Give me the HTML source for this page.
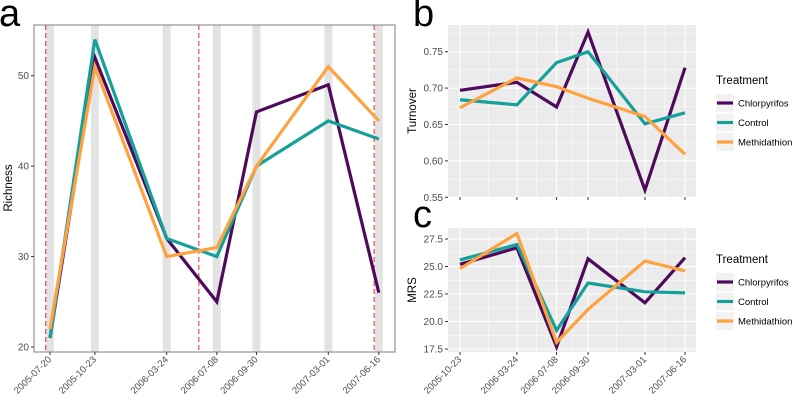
<!DOCTYPE html>
<html><head><meta charset="utf-8"><style>
body{margin:0;background:#fff;}
svg{display:block;font-family:"Liberation Sans",sans-serif;}
</style></head><body>
<svg id="chart" width="795" height="404"></svg>
<script>
const datesA=["2005-07-20","2005-10-23","2006-03-24","2006-07-08","2006-09-30","2007-03-01","2007-06-16"];
const richChl=[21,52,32,25,46,49,26];
const richCon=[21,54,32,30,40,45,43];
const richMet=[22,51,30,31,40,51,45];
const eventDates=["2005-07-11","2006-05-31","2007-06-06"];
const ticksA=[20,30,40,50];
const datesB=["2005-10-23","2006-03-24","2006-07-08","2006-09-30","2007-03-01","2007-06-16"];
const turnChl=[0.697,0.708,0.674,0.777,0.560,0.728];
const turnCon=[0.684,0.677,0.735,0.750,0.651,0.666];
const turnMet=[0.673,0.714,0.702,0.686,0.661,0.609];
const ticksB=[0.55,0.60,0.65,0.70,0.75];
const mrsChl=[25.2,26.7,17.7,25.7,21.7,25.8];
const mrsCon=[25.6,27.0,19.2,23.5,22.7,22.6];
const mrsMet=[24.8,28.0,18.1,21.1,25.5,24.6];
const ticksC=[17.5,20.0,22.5,25.0,27.5];
const treatments=["Chlorpyrifos","Control","Methidathion"];
const colors=["#4e0b5c","#15a09a","#fda23f"];

const NS="http://www.w3.org/2000/svg";
const svg=document.getElementById('chart');
function el(tag,attrs,parent,text){const e=document.createElementNS(NS,tag);for(const k in attrs)e.setAttribute(k,attrs[k]);if(text!==undefined)e.textContent=text;(parent||svg).appendChild(e);return e;}
const day=d=>Date.parse(d)/86400000;

// Panel A
const a0=day("2005-07-20");
const xA=d=>50+(day(d)-a0)*0.4725;
const yA=v=>347-(v-20)*9.043;
let g=el('g',{});

datesA.forEach(d=>{const r=el('rect',{x:xA(d)-4,y:25,width:8,height:327,fill:'#e3e3e3'},g);
});
eventDates.forEach(d=>{const l=el('line',{x1:xA(d),x2:xA(d),y1:25,y2:352,stroke:'#ee3333','stroke-width':1.1,'stroke-dasharray':'5,3'},g);
});
[[richChl,0],[richCon,1],[richMet,2]].forEach(([arr,i])=>{
 const p=el('polyline',{points:arr.map((v,j)=>xA(datesA[j])+','+yA(v)).join(' '),fill:'none',stroke:colors[i],'stroke-width':3.2,'stroke-linejoin':'miter'},g);
 });
let fr=el('rect',{x:34,y:25,width:361,height:327,fill:'none',stroke:'#7f7f7f','stroke-width':1},g);

ticksA.forEach(t=>{el('line',{x1:31,x2:34,y1:yA(t),y2:yA(t),stroke:'#333'},g);
 const tx=el('text',{x:29,y:yA(t)+3.5,'text-anchor':'end','font-size':10,fill:'#4d4d4d'},g,t);
 });
datesA.forEach(d=>{const x=xA(d);el('line',{x1:x,x2:x,y1:352,y2:355,stroke:'#333'},g);
 const tx=el('text',{x:x+2,y:360,'text-anchor':'end','font-size':9.5,fill:'#4d4d4d',transform:`rotate(-45 ${x+2} 360)`},g,d);
 });
let yt=el('text',{x:0,y:0,'font-size':11.5,fill:'#000','text-anchor':'middle',transform:'translate(12,188) rotate(-90)'},g,'Richness');

let la=el('text',{x:-1,y:26,'font-size':38,fill:'#000'},g,'a');


// Panels B and C
const b0=day("2005-10-23");
const xB=d=>460+(day(d)-b0)*0.3744;
function panel(name,top,bot,ticks,ymap,series,title,fmt,showX,label,labelY,legendY){
 const g=el('g',{});
 
 const bg=el('rect',{x:448,y:top,width:248,height:bot-top,fill:'#ebebeb'},g);
 
 for(let i=0;i<ticks.length;i++){
  if(i<ticks.length-1){const m=ymap((ticks[i]+ticks[i+1])/2);el('line',{x1:448,x2:696,y1:m,y2:m,stroke:'#fff','stroke-width':0.5},g);}
  el('line',{x1:448,x2:696,y1:ymap(ticks[i]),y2:ymap(ticks[i]),stroke:'#fff','stroke-width':1},g);}
 const mAbove=ymap(ticks[ticks.length-1]+(ticks[1]-ticks[0])/2);
 if(mAbove>top)el('line',{x1:448,x2:696,y1:mAbove,y2:mAbove,stroke:'#fff','stroke-width':0.5},g);
 for(let j=0;j<datesB.length-1;j++){const m=(xB(datesB[j])+xB(datesB[j+1]))/2;el('line',{x1:m,x2:m,y1:top,y2:bot,stroke:'#fff','stroke-width':0.5},g);}
 datesB.forEach(d=>el('line',{x1:xB(d),x2:xB(d),y1:top,y2:bot,stroke:'#fff','stroke-width':1},g));
 series.forEach((arr,i)=>{const p=el('polyline',{points:arr.map((v,j)=>xB(datesB[j])+','+ymap(v)).join(' '),fill:'none',stroke:colors[i],'stroke-width':3.2},g);
  });
 ticks.forEach(t=>{el('line',{x1:445,x2:448,y1:ymap(t),y2:ymap(t),stroke:'#333'},g);
  const tx=el('text',{x:443,y:ymap(t)+3.5,'text-anchor':'end','font-size':10,fill:'#4d4d4d'},g,fmt(t));
  });
 datesB.forEach(d=>{const x=xB(d);el('line',{x1:x,x2:x,y1:bot,y2:bot+3,stroke:'#333'},g);
  if(showX){const tx=el('text',{x:x+2,y:bot+8,'text-anchor':'end','font-size':9.5,fill:'#4d4d4d',transform:`rotate(-45 ${x+2} ${bot+8})`},g,d);
  }});
 const yt=el('text',{x:0,y:0,'font-size':11.5,fill:'#000','text-anchor':'middle',transform:`translate(416,${(top+bot)/2}) rotate(-90)`},g,title);
 
 const lb=el('text',{x:413,y:labelY,'font-size':38,fill:'#000'},g,label);
 
 const lg=el('g',{},g);
 
 el('text',{x:716,y:legendY,'font-size':11.5,fill:'#000'},lg,'Treatment');
 treatments.forEach((t,i)=>{const yy=legendY+19+i*19.5;
  const e=el('g',{},lg);
  
  el('rect',{x:716,y:yy-9,width:18,height:18,fill:'#f2f2f2'},e);
  el('line',{x1:717,x2:733,y1:yy,y2:yy,stroke:colors[i],'stroke-width':3.2},e);
  el('text',{x:738,y:yy+3.5,'font-size':9.5,fill:'#000'},e,t);});
}
const yB=v=>197.3-(v-0.55)*728;
const yC=v=>349-(v-17.5)*11;
panel('panel-b',25,197,ticksB,yB,[turnChl,turnCon,turnMet],'Turnover',t=>t.toFixed(2),false,'b',26,84);
panel('panel-c',228,352,ticksC,yC,[mrsChl,mrsCon,mrsMet],'MRS',t=>t.toFixed(1),true,'c',227,263);
</script>
</body></html>
